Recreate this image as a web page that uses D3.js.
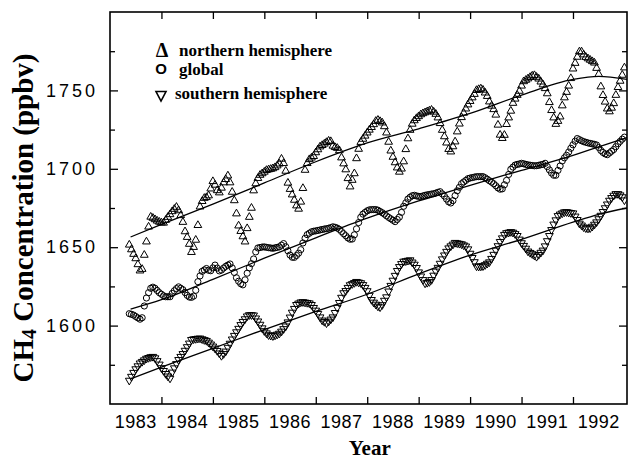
<!DOCTYPE html>
<html>
<head>
<meta charset="utf-8">
<script src="https://cdn.jsdelivr.net/npm/d3@7"></script>
<style>
  body { margin: 0; background: #fff; }
  svg { display: block; }
</style>
</head>
<body>
<div id="chart"></div>
<script>
// semi-monthly samples, starting in May 1983
var startYear = 1983.375;
var perYear = 24;

var north = [
  1651.5,1648.5,1645.6,1642.8,1639,1635,1636,1645,1653.5,1663,
  1669.3,1668.6,1667.7,1666.8,1666.1,1665.6,1665.5,1667.3,1669.2,1670.9,
  1672.8,1674.3,1675.6,1673.4,1670.3,1666,1660,1656.4,1652,1646.8,
  1650,1654.6,1664,1675.8,1679.3,1681.3,1681.8,1682.9,1687.3,1692,
  1689.7,1686.2,1684.8,1687.8,1691.2,1693.3,1695.6,1691.2,1685.2,1679.8,
  1671.4,1663.7,1660.2,1656.8,1653.5,1662,1669.2,1675,1686.1,1690.6,
  1694,1696,1697,1698,1699.1,1699.5,1699.8,1700.2,1700.9,1702,
  1703.2,1706.3,1703.5,1698.6,1691,1687,1683.5,1680.1,1676.5,1674.4,
  1678.9,1687.6,1699.2,1703.5,1706,1707,1708,1710.4,1712.3,1714.1,
  1715,1715.9,1716.9,1717.8,1717.5,1714.6,1713.7,1713.2,1711.7,1707.1,
  1703.3,1699.5,1693.9,1688.6,1692.8,1697,1706.6,1712.6,1717,1719,
  1721,1723,1724.8,1726.5,1728.3,1730.4,1731.1,1730.3,1729.4,1727,
  1723,1717.1,1711.5,1707.5,1704,1700.7,1698,1700,1704.6,1712.4,
  1719.3,1724.7,1728.6,1730.8,1732.2,1733.4,1734.6,1735.3,1735.9,1736.5,
  1737,1737.5,1736.3,1734.9,1732.6,1729,1724.7,1720.6,1716.6,1712.5,
  1710.9,1714.2,1717.3,1723.7,1728.7,1732.8,1735.6,1738.3,1740.9,1743.1,
  1745.4,1747.6,1750.1,1750.7,1751.1,1750.3,1748.5,1746.3,1742.8,1740.1,
  1737.9,1734.4,1728,1721.6,1719.5,1721.5,1728.4,1732.6,1736.9,1741.9,
  1744.6,1747,1749.6,1752.9,1755.7,1756.6,1757.5,1758.4,1759.3,1759.6,
  1758.5,1757.4,1755.5,1753.7,1751.3,1748,1742.4,1737.3,1732.6,1728.5,
  1730.4,1733.2,1740.3,1745.4,1748.9,1752.9,1757.7,1763.8,1767.4,1771.3,
  1774.7,1774.7,1772.8,1771.2,1770.3,1769.4,1768.5,1767.6,1764.2,1760.3,
  1752.4,1746.9,1742.7,1738.3,1736.5,1738.8,1741.7,1747,1752,1756,1759.8,1764.5
];

var globalMean = [
  1607.6,1607.2,1606.7,1605.8,1604.9,1604.1,1605,1612.5,1617.6,1621,
  1623.8,1624.5,1623.8,1622.4,1621,1620,1619,1618.4,1618.4,1618.4,
  1620.5,1622.2,1623.6,1624.7,1623.8,1622.9,1621.1,1619.3,1618.2,1618,
  1618.8,1622.5,1628,1631.7,1634.6,1635.5,1636.4,1635.3,1635,1636.8,
  1638.6,1636.7,1634.9,1635.4,1636.7,1637.8,1638.6,1639.3,1636.8,1633.9,
  1630.5,1628.3,1626.7,1626,1629.2,1633.4,1636.8,1639.5,1642.5,1647,
  1649.5,1649.8,1650.1,1650.2,1649.9,1649.7,1649.5,1649.3,1649.6,1649.9,
  1650.2,1651.3,1652.3,1650.3,1647.7,1645,1643.6,1643.5,1644.7,1646.2,
  1648.4,1652.7,1655.7,1658,1658.9,1659.8,1660.2,1660.4,1660.7,1661,
  1661.3,1661.6,1661.8,1662.1,1662.5,1663,1662.7,1662.2,1661.4,1660,
  1658.6,1657.3,1655.9,1655.1,1655.2,1657.9,1661.7,1665.7,1669.1,1671.1,
  1672.2,1673.2,1673.8,1674,1674,1674,1673.6,1672.8,1672,1671.1,
  1670,1669,1668.1,1667.2,1666.3,1667.7,1669.2,1672.2,1676.1,1678.3,
  1680.7,1681.9,1682.8,1683.1,1682.7,1682.4,1682.3,1682.7,1683.1,1683.4,
  1683.6,1683.9,1684.1,1684.5,1685,1685.4,1684,1682.6,1680.7,1678.9,
  1678.2,1679.7,1682.9,1686,1688.2,1690.5,1691.6,1692.6,1693.7,1694.1,
  1694.4,1694.7,1695,1695,1695,1695,1694.3,1693.4,1692.4,1691.5,
  1690.5,1689.2,1687.8,1687,1687.2,1689.8,1692.6,1696.4,1699.7,1701.1,
  1702.4,1702.8,1703.1,1703.5,1703.2,1702.8,1702.5,1702.3,1702.1,1701.9,
  1702,1702.2,1702.6,1702.8,1703.5,1701.4,1699.3,1697.3,1695.9,1695.9,
  1699,1701.8,1705,1707,1708.6,1710.7,1713.1,1715.3,1717.6,1719.3,
  1718.6,1717.9,1717.3,1716.9,1716.5,1716.2,1715.9,1715.6,1715.2,1713.6,
  1711.7,1710.4,1709.5,1709,1710.1,1711.2,1712.3,1714.1,1716,1717.5,1718.9,1720.2
];

var south = [
  1565,1567.5,1570,1572.3,1574.2,1576,1577,1578,1579,1579.5,
  1580,1580.2,1579.3,1577.5,1575.3,1573,1571.2,1569.3,1567.7,1566.4,
  1570.2,1572.9,1575.6,1578.2,1580.2,1582,1584.1,1586.4,1588.7,1591,
  1591.4,1591.6,1591.8,1591.9,1591.4,1590.9,1590.4,1589.3,1588.1,1586.8,
  1585.5,1584,1582.4,1580.8,1582,1583.6,1586,1588.6,1591.3,1593.6,
  1595.9,1598.1,1600.5,1602.5,1604.2,1606,1606.8,1606.8,1606.6,1604.7,
  1602.8,1600.7,1598.4,1596.6,1595.2,1594,1593.7,1593.4,1593.8,1594.4,
  1595,1596.3,1597.9,1599.6,1602.2,1605.3,1608.4,1610.8,1613.3,1614.2,
  1614.9,1615.1,1614.8,1614.6,1614.3,1613.3,1611.4,1609.7,1607.6,1605.4,
  1603.4,1602.5,1601.6,1602.7,1604,1605.4,1608.2,1611.5,1614.6,1617.9,
  1620.8,1622.2,1624.2,1625.9,1626.6,1627.3,1628,1627.6,1627.2,1626,
  1624.2,1622.1,1619.2,1616.5,1614.8,1613.5,1612.3,1611.8,1613.2,1616,
  1618.2,1621.9,1625.5,1628.8,1631.9,1635,1637.5,1639.4,1640.9,1641.2,
  1641.5,1641.8,1640.4,1639,1636.9,1634.1,1631.5,1629.2,1627,1627.4,
  1627.9,1629.2,1632,1634.6,1637,1639.6,1642.4,1644.9,1647.2,1649.4,
  1650.7,1651.8,1652.9,1652.6,1652.3,1652,1651.3,1650.6,1648.8,1646,
  1643.3,1640.6,1637.9,1637.7,1637.8,1638,1638.7,1639.6,1640.5,1642.7,
  1645.3,1648,1650.8,1653.5,1655.8,1658,1659.1,1659.4,1659.8,1659.4,
  1658.5,1657.3,1655,1652.7,1651,1649.2,1647.4,1646.5,1645.7,1644.8,
  1644,1645.2,1646.6,1648,1650.7,1654,1657.3,1661.1,1664.6,1667.3,
  1670,1671,1671.7,1672.4,1672.5,1672.2,1671.9,1671.7,1669.7,1667.5,
  1665.2,1664,1662.8,1662.2,1662,1662.2,1663.2,1664.5,1666,1668,
  1670.2,1672.6,1675,1677.4,1679.8,1681.5,1683,1684,1684,1683.2,1682,1680
];

// smooth trend curves
var trendYears   = [1983.4, 1984, 1985, 1986, 1987, 1988, 1989, 1990, 1991, 1992, 1992.5, 1993.05];
var northTrend   = [1656.5, 1664.5, 1677.5, 1691, 1704.5, 1716.5, 1725.5, 1735.3, 1747, 1757, 1759, 1757];
var globalTrend  = [1610.5, 1616.5, 1629.5, 1643, 1656, 1668.5, 1679.5, 1689.5, 1699, 1708.5, 1714, 1720];
var southTrend   = [1566, 1573.5, 1585.5, 1597.5, 1609, 1620, 1633, 1645, 1655, 1666, 1671, 1675];

var yearLabels = [1983, 1984, 1985, 1986, 1987, 1988, 1989, 1990, 1991, 1992];
var yearTicks = [1984, 1985, 1986, 1987, 1988, 1989, 1990, 1991, 1992];
var yMajor = [1600, 1650, 1700, 1750];
var yMinor = [1575, 1625, 1675, 1725, 1775];

var width = 630;
var height = 461;
var margin = { top: 12, right: 3, bottom: 57, left: 110 };
var plotW = width - margin.left - margin.right;
var plotH = height - margin.top - margin.bottom;

var svg = d3.select('#chart').append('svg')
            .attr('width', width)
            .attr('height', height);

var x = d3.scaleLinear().domain([1983, 1993.05]).range([margin.left, width - margin.right]);
var y = d3.scaleLinear().domain([1550, 1800]).range([height - margin.bottom, margin.top]);

function toPoints(arr) {
  return arr.map(function(v, i) { return { t: startYear + i / perYear, v: v }; });
}
function toTrend(arr) {
  return arr.map(function(v, i) { return { t: trendYears[i], v: v }; });
}

svg.append('clipPath').attr('id', 'plotclip')
   .append('rect')
   .attr('x', margin.left).attr('y', margin.top)
   .attr('width', plotW).attr('height', plotH);

var plot = svg.append('g').attr('clip-path', 'url(#plotclip)');

// trend lines
var trendLine = d3.line().curve(d3.curveMonotoneX)
                  .x(function(d){ return x(d.t); })
                  .y(function(d){ return y(d.v); });
[northTrend, globalTrend, southTrend].forEach(function(tr) {
  plot.append('path').datum(toTrend(tr))
      .attr('d', trendLine)
      .attr('fill', 'none')
      .attr('stroke', '#000')
      .attr('stroke-width', 1.3);
});

// markers
var triUp = d3.symbol().type(d3.symbolTriangle).size(26);
var circ = d3.symbol().type(d3.symbolCircle).size(30);

function drawSeries(arr, sym, rot) {
  plot.append('g').selectAll('path')
      .data(toPoints(arr))
      .enter().append('path')
      .attr('d', sym)
      .attr('transform', function(d){ return 'translate(' + x(d.t) + ',' + y(d.v) + ')' + (rot ? ' rotate(180)' : ''); })
      .attr('fill', 'none')
      .attr('stroke', '#000')
      .attr('stroke-width', 1);
}
drawSeries(north, triUp, false);
drawSeries(globalMean, circ, false);
drawSeries(south, triUp, true);

// frame
svg.append('rect')
   .attr('x', margin.left).attr('y', margin.top)
   .attr('width', plotW).attr('height', plotH)
   .attr('fill', 'none').attr('stroke', '#000').attr('stroke-width', 1.6);

// ticks (all pointing inward)
function tickAxis(axis, transform) {
  var g = svg.append('g').attr('transform', transform).call(axis);
  g.select('.domain').remove();
  g.selectAll('.tick line').attr('stroke', '#000').attr('stroke-width', 1.3);
  return g;
}
var yLeft = tickAxis(d3.axisLeft(y).tickValues(yMajor).tickSize(-8).tickPadding(12).tickFormat(d3.format('d')),
                     'translate(' + margin.left + ',0)');
yLeft.selectAll('text')
     .attr('font-family', '"Liberation Sans", Arial, sans-serif')
     .attr('font-size', 18)
     .attr('letter-spacing', 3)
     .attr('fill', '#000');
tickAxis(d3.axisLeft(y).tickValues(yMinor).tickSize(-5).tickFormat(''), 'translate(' + margin.left + ',0)');
tickAxis(d3.axisRight(y).tickValues(yMajor).tickSize(-8).tickFormat(''), 'translate(' + (width - margin.right) + ',0)');
tickAxis(d3.axisRight(y).tickValues(yMinor).tickSize(-5).tickFormat(''), 'translate(' + (width - margin.right) + ',0)');
tickAxis(d3.axisBottom(x).tickValues(yearTicks).tickSize(-7).tickFormat(''), 'translate(0,' + (height - margin.bottom) + ')');
tickAxis(d3.axisTop(x).tickValues(yearTicks).tickSize(-7).tickFormat(''), 'translate(0,' + margin.top + ')');

// year labels centred in each year
svg.append('g').selectAll('text')
   .data(yearLabels)
   .enter().append('text')
   .attr('x', function(d){ return x(d + 0.5); })
   .attr('y', 428)
   .attr('text-anchor', 'middle')
   .attr('font-family', '"Liberation Sans", Arial, sans-serif')
   .attr('font-size', 18)
   .attr('letter-spacing', 0.5)
   .text(function(d){ return d; });

// axis titles
svg.append('text')
   .attr('x', x(1988.05))
   .attr('y', 455)
   .attr('text-anchor', 'middle')
   .attr('font-family', '"Liberation Serif", "Times New Roman", serif')
   .attr('font-weight', 'bold')
   .attr('font-size', 21)
   .text('Year');

var yTitle = svg.append('text')
   .attr('transform', 'translate(33,218) rotate(-90)')
   .attr('text-anchor', 'middle')
   .attr('font-family', '"Liberation Serif", "Times New Roman", serif')
   .attr('font-weight', 'bold')
   .attr('font-size', 29);
yTitle.append('tspan').text('CH');
yTitle.append('tspan').attr('font-size', 20).attr('dy', 3).text('4');
yTitle.append('tspan').attr('dy', -3).text(' Concentration (ppbv)');

// legend
var legendRows = [
  { label: 'northern hemisphere', y: 56 },
  { label: 'global', y: 75 },
  { label: 'southern hemisphere', y: 99 }
];
var legend = svg.append('g')
   .attr('font-family', '"Liberation Serif", "Times New Roman", serif')
   .attr('font-weight', 'bold')
   .attr('font-size', 17);
legend.selectAll('text.lab')
   .data(legendRows)
   .enter().append('text')
   .attr('class', 'lab')
   .attr('x', function(d, i){ return i === 2 ? 175 : 179; })
   .attr('y', function(d){ return d.y; })
   .text(function(d){ return d.label; });
legend.append('text').attr('x', 162).attr('y', 57).attr('text-anchor', 'middle')
      .attr('font-size', 20).text('\u0394');
legend.append('text').attr('x', 161).attr('y', 74).attr('text-anchor', 'middle')
      .attr('font-family', '"Liberation Sans", Arial, sans-serif').attr('font-size', 15).text('O');
legend.append('path')
      .attr('d', 'M156,91.5 L166,91.5 L161,101 Z')
      .attr('fill', 'none').attr('stroke', '#000').attr('stroke-width', 1.6);
</script>
</body>
</html>
